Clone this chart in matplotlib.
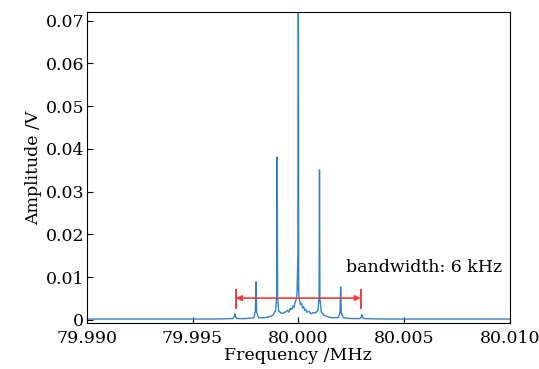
import numpy as np
import matplotlib
matplotlib.use("Agg")
import matplotlib.pyplot as plt

# Trace (MHz, V)
freq = [79.9900, 79.9930, 79.9960, 79.99690, 79.99697, 79.99700, 79.99703, 79.99710,
        79.9975, 79.99790, 79.99797, 79.99800, 79.99803, 79.99812, 79.9984, 79.9986,
        79.9988, 79.99893, 79.99898, 79.99900, 79.99902, 79.99907, 79.99920, 79.9993,
        79.99940, 79.99950, 79.99955, 79.99962, 79.99968, 79.99975, 79.99980, 79.99985,
        79.99990, 79.99994, 79.99997, 79.99998, 79.999985,
        80.00000, 80.000015, 80.00003, 80.00006, 80.0001, 80.00015, 80.0002, 80.00025,
        80.0003, 80.00035, 80.0004, 80.0005, 80.0006, 80.0007, 80.0008, 80.00093,
        80.00098, 80.00100, 80.00102, 80.00108, 80.00120,
        80.0014, 80.0016, 80.0018, 80.00190, 80.00197, 80.00200, 80.00203, 80.00212,
        80.0025, 80.00290, 80.00297, 80.00300, 80.00303, 80.00310, 80.0040, 80.0060,
        80.0080, 80.0100]
amp = [0.0002, 0.0002, 0.0002, 0.0003, 0.0008, 0.0014, 0.0007, 0.0003,
       0.0003, 0.0005, 0.0020, 0.0089, 0.0018, 0.0005, 0.0005, 0.0007,
       0.0011, 0.0022, 0.0060, 0.0381, 0.0055, 0.0021, 0.0015, 0.0016,
       0.0019, 0.0022, 0.0018, 0.0027, 0.0024, 0.0033, 0.0029, 0.0042,
       0.0048, 0.0062, 0.0140, 0.0070, 0.0195,
       0.0800, 0.0085, 0.0052, 0.0045, 0.0036, 0.0039, 0.0028, 0.0031,
       0.0022, 0.0025, 0.0018, 0.0020, 0.0014, 0.0017, 0.0016, 0.0022,
       0.0055, 0.0351, 0.0050, 0.0020, 0.0011,
       0.0007, 0.0005, 0.0005, 0.0006, 0.0018, 0.0077, 0.0016, 0.0005,
       0.0003, 0.0003, 0.0006, 0.0012, 0.0006, 0.0003, 0.0002, 0.0002,
       0.0002, 0.0002]

band_lo = 79.99705
band_hi = 80.00295
band_y = 0.0051

xticks = [79.990, 79.995, 80.000, 80.005, 80.010]
yticks = [0, 0.01, 0.02, 0.03, 0.04, 0.05, 0.06, 0.07]

plt.rcParams['font.family'] = 'DejaVu Serif'
plt.rcParams['font.size'] = 12.5

fig = plt.figure(figsize=(5.39, 3.69), dpi=100)
ax = fig.add_axes([0.161, 0.125, 0.785, 0.842])

ax.plot(freq, amp, color='#3383c4', lw=1.0)

# bandwidth marker
ax.annotate('', xy=(band_lo, band_y), xytext=(band_hi, band_y),
            arrowprops=dict(arrowstyle='<|-|>', color='#f03c3c', lw=1.2,
                            mutation_scale=8, shrinkA=0, shrinkB=0))
ax.vlines([band_lo, band_hi], 0.0026, 0.0073, color='#f03c3c', lw=1.4)
ax.text(80.00225, 0.0122, 'bandwidth: 6 kHz', va='center', ha='left')

ax.set_xlim(79.990, 80.010)
ax.set_ylim(-0.0007, 0.072)
ax.set_xticks(xticks)
ax.set_xticklabels([f"{t:.3f}" for t in xticks])
ax.set_yticks(yticks)
ax.set_yticklabels(['0'] + [f"{t:.2f}" for t in yticks[1:]])
ax.tick_params(direction='in', length=4)
ax.tick_params(axis='x', pad=5)
ax.tick_params(axis='y', pad=2)
ax.set_xlabel('Frequency /MHz', labelpad=0)
ax.set_ylabel('Amplitude /V', labelpad=2)

fig.savefig('out.png', dpi=100)
